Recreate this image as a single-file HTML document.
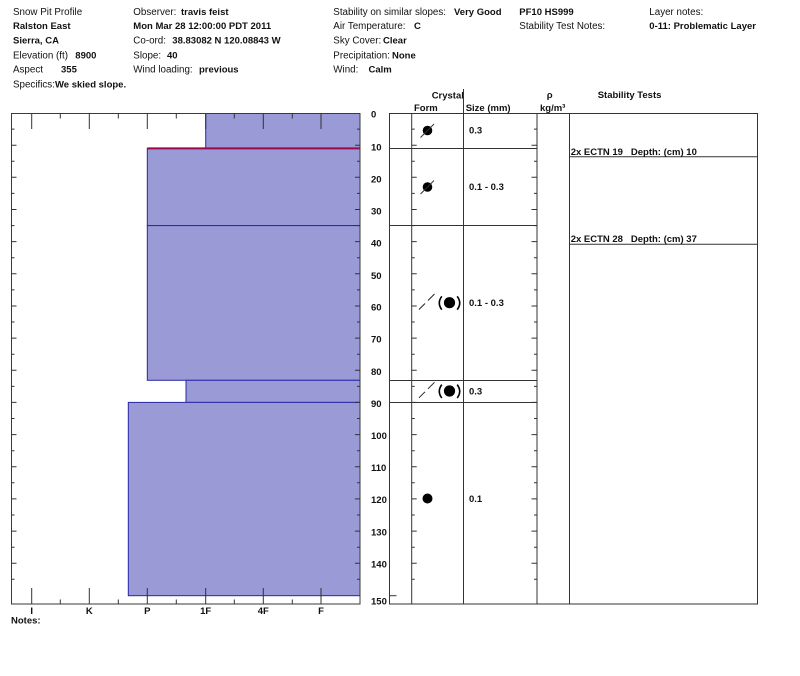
<!DOCTYPE html>
<html>
<head>
<meta charset="utf-8">
<style>
html,body{margin:0;padding:0;background:#fff;}
svg{display:block;}
text{font-family:"Liberation Sans",Arial,sans-serif;fill:#111;}
.n{font-size:9.8px;font-weight:normal;}
.b{font-size:9.5px;font-weight:bold;}
</style>
</head>
<body>
<svg width="800" height="676" viewBox="0 0 800 676" xmlns="http://www.w3.org/2000/svg">
<rect width="800" height="676" fill="#fff"/>

<!-- Header -->
<text class="n" x="13" y="15">Snow Pit Profile</text>
<text class="b" x="13" y="29.2">Ralston East</text>
<text class="b" x="13" y="43.7">Sierra, CA</text>
<text class="n" x="13" y="58.3">Elevation (ft)</text><text class="b" x="75.3" y="58.3">8900</text>
<text class="n" x="13" y="72.7">Aspect</text><text class="b" x="61" y="72.7">355</text>
<text class="n" x="13" y="87.3">Specifics:</text><text class="b" x="55" y="87.3">We skied slope.</text>

<text class="n" x="133.3" y="15">Observer:</text><text class="b" x="181" y="15">travis feist</text>
<text class="b" x="133.3" y="29.2">Mon Mar 28 12:00:00 PDT 2011</text>
<text class="n" x="133.3" y="43.7">Co-ord:</text><text class="b" x="172.3" y="43.7">38.83082 N 120.08843 W</text>
<text class="n" x="133.3" y="58.3">Slope:</text><text class="b" x="167" y="58.3">40</text>
<text class="n" x="133.3" y="72.7">Wind loading:</text><text class="b" x="199" y="72.7">previous</text>

<text class="n" x="333.3" y="15">Stability on similar slopes:</text><text class="b" x="454" y="15">Very Good</text>
<text class="n" x="333.3" y="29.2">Air Temperature:</text><text class="b" x="414" y="29.2">C</text>
<text class="n" x="333.3" y="43.7">Sky Cover:</text><text class="b" x="383" y="43.7">Clear</text>
<text class="n" x="333.3" y="58.3">Precipitation:</text><text class="b" x="392" y="58.3">None</text>
<text class="n" x="333.3" y="72.7">Wind:</text><text class="b" x="368.5" y="72.7">Calm</text>

<text class="b" x="519.3" y="15">PF10 HS999</text>
<text class="n" x="519.3" y="29.2">Stability Test Notes:</text>
<text class="n" x="649.3" y="15">Layer notes:</text>
<text class="b" x="649.3" y="29.2">0-11: Problematic Layer</text>

<!-- Left chart layers -->
<g fill="#9a9ad6" stroke="#2828a6" stroke-width="1">
  <rect x="205.7" y="113.5" width="154.3" height="34.9"/>
  <rect x="147.3" y="148.4" width="212.7" height="77.2"/>
  <rect x="147.3" y="225.6" width="212.7" height="154.7"/>
  <rect x="186" y="380.3" width="174" height="22.1"/>
  <rect x="128.3" y="402.4" width="231.7" height="193.3"/>
</g>
<line x1="147.3" y1="148.4" x2="360" y2="148.4" stroke="#9a0a4a" stroke-width="2"/>

<!-- Left chart frame -->
<rect x="11.5" y="113.5" width="348.5" height="490.5" fill="none" stroke="#3a3a3a" stroke-width="1"/>

<!-- hardness ticks -->
<path stroke="#333" stroke-width="1" fill="none" d="
M31.7 113.5V129 M89.3 113.5V129 M147.3 113.5V129 M205.7 113.5V129 M263.3 113.5V129 M321 113.5V129
M60.3 113.5V118.5 M118.3 113.5V118.5 M176.3 113.5V118.5 M234.3 113.5V118.5 M292.3 113.5V118.5
M31.7 604V588 M89.3 604V588 M147.3 604V588 M205.7 604V588 M263.3 604V588 M321 604V588
M60.3 604V599.5 M118.3 604V599.5 M176.3 604V599.5 M234.3 604V599.5 M292.3 604V599.5"/>

<!-- left-chart depth ticks (left edge and right edge) -->
<path stroke="#333" stroke-width="1" fill="none" d="
M11.5 145.2h5 M11.5 177.3h5 M11.5 209.5h5 M11.5 241.6h5 M11.5 273.8h5 M11.5 306h5 M11.5 338.1h5 M11.5 370.3h5 M11.5 402.4h5 M11.5 434.6h5 M11.5 466.8h5 M11.5 498.9h5 M11.5 531.1h5 M11.5 563.2h5
M11.5 129.1h3 M11.5 161.2h3 M11.5 193.4h3 M11.5 225.6h3 M11.5 257.7h3 M11.5 289.9h3 M11.5 322h3 M11.5 354.2h3 M11.5 386.4h3 M11.5 418.5h3 M11.5 450.7h3 M11.5 482.8h3 M11.5 515h3 M11.5 547.2h3 M11.5 579.3h3
M360 145.2h-5 M360 177.3h-5 M360 209.5h-5 M360 241.6h-5 M360 273.8h-5 M360 306h-5 M360 338.1h-5 M360 370.3h-5 M360 402.4h-5 M360 434.6h-5 M360 466.8h-5 M360 498.9h-5 M360 531.1h-5 M360 563.2h-5
M360 129.1h-3 M360 161.2h-3 M360 193.4h-3 M360 225.6h-3 M360 257.7h-3 M360 289.9h-3 M360 322h-3 M360 354.2h-3 M360 386.4h-3 M360 418.5h-3 M360 450.7h-3 M360 482.8h-3 M360 515h-3 M360 547.2h-3 M360 579.3h-3"/>

<!-- hardness labels -->
<g text-anchor="middle">
<text class="b" x="31.7" y="614">I</text>
<text class="b" x="89.3" y="614">K</text>
<text class="b" x="147.3" y="614">P</text>
<text class="b" x="205.7" y="614">1F</text>
<text class="b" x="263.3" y="614">4F</text>
<text class="b" x="321" y="614">F</text>
</g>
<text class="b" x="11" y="623.5">Notes:</text>

<!-- depth labels -->
<text class="b" x="371" y="117.5">0</text>
<text class="b" x="371" y="150.5">10</text>
<text class="b" x="371" y="182.5">20</text>
<text class="b" x="371" y="214.5">30</text>
<text class="b" x="371" y="246.6">40</text>
<text class="b" x="371" y="278.8">50</text>
<text class="b" x="371" y="310.5">60</text>
<text class="b" x="371" y="342.6">70</text>
<text class="b" x="371" y="374.8">80</text>
<text class="b" x="371" y="406.9">90</text>
<text class="b" x="371" y="439">100</text>
<text class="b" x="371" y="471">110</text>
<text class="b" x="371" y="503">120</text>
<text class="b" x="371" y="535.3">130</text>
<text class="b" x="371" y="567.5">140</text>
<text class="b" x="371" y="604.3">150</text>

<!-- Right table header -->
<text class="b" x="431.7" y="98.3">Crystal</text>
<line x1="463.5" y1="89" x2="463.5" y2="113.5" stroke="#333" stroke-width="1"/>
<text class="b" x="414" y="111">Form</text>
<text class="b" x="465.7" y="111">Size (mm)</text>
<text class="b" x="546.7" y="98">ρ</text>
<text class="b" x="540" y="111">kg/m³</text>
<text class="b" x="597.7" y="98">Stability Tests</text>

<!-- Right chart frame and columns -->
<g stroke="#333" stroke-width="1" fill="none">
<rect x="389.5" y="113.5" width="368" height="490.5"/>
<line x1="411.7" y1="113.5" x2="411.7" y2="604"/>
<line x1="463.5" y1="113.5" x2="463.5" y2="604"/>
<line x1="537" y1="113.5" x2="537" y2="604"/>
<line x1="569.5" y1="113.5" x2="569.5" y2="604"/>
<!-- layer lines -->
<line x1="389.5" y1="148.5" x2="537" y2="148.5"/>
<line x1="389.5" y1="225.5" x2="537" y2="225.5"/>
<line x1="389.5" y1="380.5" x2="537" y2="380.5"/>
<line x1="389.5" y1="402.5" x2="537" y2="402.5"/>
<!-- stability lines -->
<line x1="569.5" y1="156.7" x2="757.5" y2="156.7"/>
<line x1="569.5" y1="244.3" x2="757.5" y2="244.3"/>
<!-- HS marker -->
<line x1="390" y1="595.7" x2="396.5" y2="595.7"/>
</g>

<!-- right chart ticks -->
<path stroke="#333" stroke-width="1" fill="none" d="
M411.7 145.2h5 M411.7 177.3h5 M411.7 209.5h5 M411.7 241.6h5 M411.7 273.8h5 M411.7 306h5 M411.7 338.1h5 M411.7 370.3h5 M411.7 402.4h5 M411.7 434.6h5 M411.7 466.8h5 M411.7 498.9h5 M411.7 531.1h5 M411.7 563.2h5
M411.7 129.1h3 M411.7 161.2h3 M411.7 193.4h3 M411.7 225.6h3 M411.7 257.7h3 M411.7 289.9h3 M411.7 322h3 M411.7 354.2h3 M411.7 386.4h3 M411.7 418.5h3 M411.7 450.7h3 M411.7 482.8h3 M411.7 515h3 M411.7 547.2h3 M411.7 579.3h3
M537 145.2h-5.5 M537 177.3h-5.5 M537 209.5h-5.5 M537 241.6h-5.5 M537 273.8h-5.5 M537 306h-5.5 M537 338.1h-5.5 M537 370.3h-5.5 M537 402.4h-5.5 M537 434.6h-5.5 M537 466.8h-5.5 M537 498.9h-5.5 M537 531.1h-5.5 M537 563.2h-5.5
M537 129.1h-3 M537 161.2h-3 M537 193.4h-3 M537 225.6h-3 M537 257.7h-3 M537 289.9h-3 M537 322h-3 M537 354.2h-3 M537 386.4h-3 M537 418.5h-3 M537 450.7h-3 M537 482.8h-3 M537 515h-3 M537 547.2h-3 M537 579.3h-3"/>

<!-- crystal symbols -->
<circle cx="427.5" cy="130.5" r="4.8" fill="#000"/>
<line x1="420.5" y1="137.5" x2="434" y2="124" stroke="#333" stroke-width="1"/>
<circle cx="427.5" cy="187" r="4.8" fill="#000"/>
<line x1="420.5" y1="194" x2="434" y2="180.5" stroke="#333" stroke-width="1"/>

<g>
<path d="M419 309.5L425 303.5M428 300.5L434.5 294" stroke="#222" stroke-width="1" fill="none"/>
<path d="M441.8 296.3Q436.8 303 441.8 309.7" stroke="#000" stroke-width="1.6" fill="none"/>
<path d="M457.2 296.3Q462.2 303 457.2 309.7" stroke="#000" stroke-width="1.6" fill="none"/>
<circle cx="449.5" cy="302.7" r="5.6" fill="#000"/>
</g>
<g transform="translate(0,88.3)">
<path d="M419 309.5L425 303.5M428 300.5L434.5 294" stroke="#222" stroke-width="1" fill="none"/>
<path d="M441.8 296.3Q436.8 303 441.8 309.7" stroke="#000" stroke-width="1.6" fill="none"/>
<path d="M457.2 296.3Q462.2 303 457.2 309.7" stroke="#000" stroke-width="1.6" fill="none"/>
<circle cx="449.5" cy="302.7" r="5.6" fill="#000"/>
</g>
<circle cx="427.5" cy="498.5" r="5" fill="#000"/>

<!-- sizes -->
<text class="b" x="469" y="133.3">0.3</text>
<text class="b" x="469" y="190">0.1 - 0.3</text>
<text class="b" x="469" y="306">0.1 - 0.3</text>
<text class="b" x="469" y="394.3">0.3</text>
<text class="b" x="469" y="502">0.1</text>

<!-- stability tests -->
<text class="b" x="570.7" y="155" xml:space="preserve" style="white-space:pre">2x ECTN 19   Depth: (cm) 10</text>
<text class="b" x="570.7" y="242" xml:space="preserve" style="white-space:pre">2x ECTN 28   Depth: (cm) 37</text>
</svg>
</body>
</html>
